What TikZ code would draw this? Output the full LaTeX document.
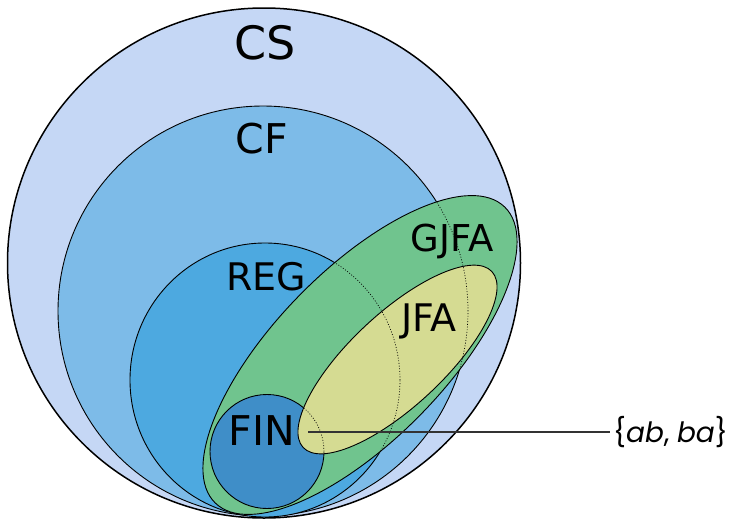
\documentclass[tikz,border=0pt]{standalone}
\usepackage{fontspec}
\setmainfont{DejaVu Sans}
\newfontfamily\setfont{Poppins}
\begin{document}
\begin{tikzpicture}[x=1pt,y=1pt]
\definecolor{csc}{RGB}{197,215,245}
\definecolor{cfc}{RGB}{125,187,232}
\definecolor{regc}{RGB}{77,169,224}
\definecolor{finc}{RGB}{63,142,200}
\definecolor{gjfac}{RGB}{112,196,142}
\definecolor{jfac}{RGB}{213,219,146}
\tikzset{
  setline/.style={draw=black,line width=0.9pt},
  dotline/.style={draw=black,line width=0.7pt,dash pattern=on 0.9pt off 1.8pt},
  lab/.style={inner sep=0pt,anchor=base},
}
\useasboundingbox (0,0) rectangle (732,-520);
% sets
\path[setline,fill=csc,line width=1.5pt] (264,-263) ellipse [x radius=256.5,y radius=255];
\path[setline,fill=cfc] (263,-311) circle [radius=205];
\path[setline,fill=regc] (265,-380) ellipse [x radius=135,y radius=137];
\path[setline,fill=gjfac,rotate around={45.6:(360,-355)}] (360,-355) ellipse [x radius=207,y radius=85];
\path[setline,fill=finc] (267,-451.5) circle [radius=57];
\path[setline,fill=jfac,rotate around={43:(397.5,-359.5)}] (397.5,-359.5) ellipse [x radius=129,y radius=46.5];
% hidden boundaries
\begin{scope}
  \clip[rotate around={45.6:(360,-355)}] (360,-355) ellipse [x radius=206.5,y radius=84.5];
  \draw[dotline] (263,-311) circle [radius=205];
  \draw[dotline] (265,-380) ellipse [x radius=135,y radius=137];
\end{scope}
\begin{scope}
  \clip[rotate around={43:(397.5,-359.5)}] (397.5,-359.5) ellipse [x radius=128.5,y radius=46];
  \draw[dotline] (267,-451.5) circle [radius=57];
\end{scope}
% labels
\node[lab] (cs) at (265,-59) {\fontsize{46}{46}\selectfont CS};
\node[lab] (cf) at (262,-153) {\fontsize{41}{41}\selectfont CF};
\node[lab] (reg) at (266,-290) {\fontsize{38}{38}\selectfont REG};
\node[lab] (gjfa) at (452,-251) {\fontsize{37}{37}\selectfont GJFA};
\node[lab] (jfa) at (429,-331) {\fontsize{38}{38}\selectfont JFA};
\node[lab] (fin) at (262,-445) {\fontsize{41}{41}\selectfont FIN};
\node[inner sep=0pt,inner xsep=3pt,anchor=west] (word) at (610,-432) {\setfont\fontsize{28}{28}\selectfont\{\textit{ab}, \textit{ba}\}};
\coordinate (wordpoint) at (308,-432);
\draw[line width=1.1pt,draw=black!80] (wordpoint) -- (word.west);
\end{tikzpicture}
\end{document}
